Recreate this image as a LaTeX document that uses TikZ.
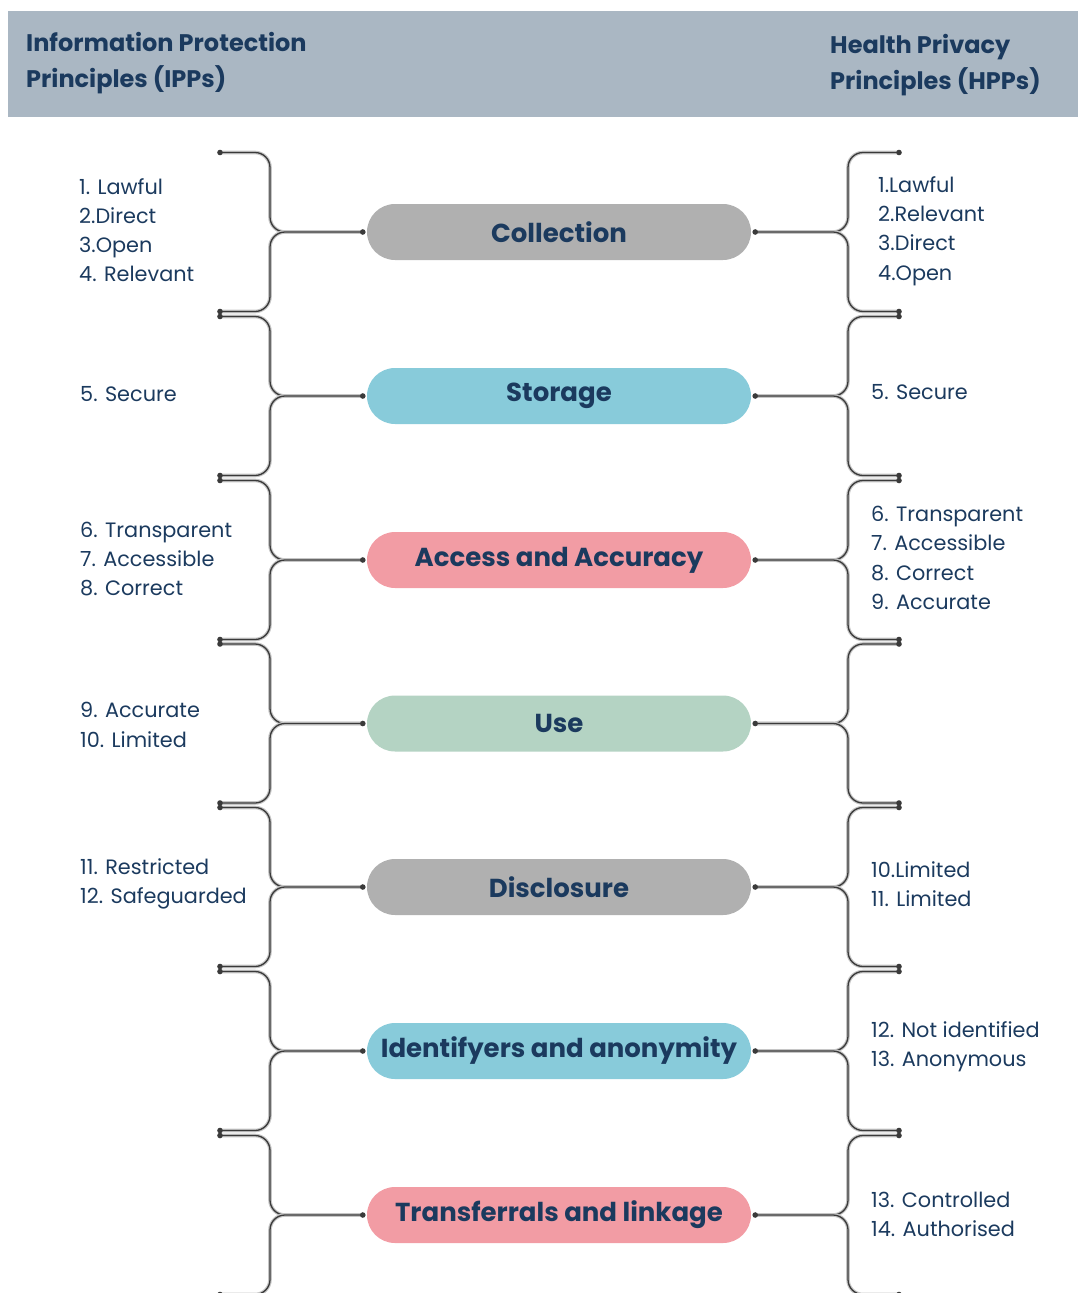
\documentclass[tikz,border=0pt]{standalone}
\usepackage{fontspec}
\setmainfont{Poppins}
\definecolor{navy}{HTML}{1B3A5E}
\definecolor{headbg}{HTML}{AAB7C3}
\definecolor{pgray}{HTML}{B0B0B0}
\definecolor{pblue}{HTML}{88CBDA}
\definecolor{ppink}{HTML}{F29CA4}
\definecolor{psage}{HTML}{B4D3C3}
\definecolor{wirecore}{HTML}{3A3A3A}
\definecolor{wirehalo}{HTML}{C6C6C6}
\tikzset{
  headtxt/.style={text=navy, align=left, inner sep=0pt, font=\fontsize{24}{35.5}\selectfont\bfseries},
  pill/.style={minimum width=384pt, minimum height=56pt, rounded corners=28pt, inner sep=0pt,
    text=navy, font=\fontsize{26}{30}\selectfont\bfseries},
  lbl/.style={text=navy, align=left, anchor=west, inner sep=0pt, font=\fontsize{20.8}{29.2}\selectfont},
  wire/.style={draw=wirecore, line width=1.3pt, rounded corners=15pt,
    preaction={draw=wirehalo, line width=3.6pt}},
  dotc/.style={fill=wirecore}
}
\begin{document}
\begin{tikzpicture}[x=1pt,y=-1pt]
\useasboundingbox (0,0) rectangle (1078,1293);
% header band
\fill[headbg] (8,11) rectangle (1078,117);
\node[headtxt, anchor=west] (ipp) at (26,63) {Information Protection\\Principles (IPPs)};
\node[headtxt, anchor=west] (hpp) at (830,65) {Health Privacy\\Principles (HPPs)};

% stages with their brackets on both sides
\foreach \i/\c/\col/\txt in {1/232/pgray/Collection, 2/396/pblue/Storage,
    3/560/ppink/Access and Accuracy, 4/723.5/psage/Use, 5/887/pgray/Disclosure,
    6/1051/pblue/Identifyers and anonymity, 7/1215/ppink/Transferrals and linkage}{
  \node[pill, fill=\col] (p\i) at (559,\c) {\txt};
  \coordinate (pl\i) at ([xshift=-4pt]p\i.west);
  \coordinate (pr\i) at ([xshift=4pt]p\i.east);
  \coordinate (lt\i) at (220,{\c-79.5});
  \coordinate (lb\i) at (220,{\c+79.5});
  \coordinate (rt\i) at (899,{\c-79.5});
  \coordinate (rb\i) at (899,{\c+79.5});
  \draw[wire] (lt\i) -- ++(50,0) |- (pl\i);
  \draw[wire] (lb\i) -- ++(50,0) |- (pl\i);
  \draw[wire] (rt\i) -- ++(-51,0) |- (pr\i);
  \draw[wire] (rb\i) -- ++(-51,0) |- (pr\i);
  \foreach \d in {pl\i,pr\i,lt\i,lb\i,rt\i,rb\i}{\fill[dotc] (\d) circle (2.8pt);}
}

% IPP lists
\node[lbl] (l1) at (79,230) {1. Lawful\\2.Direct\\3.Open\\4. Relevant};
\node[lbl] (l2) at (80,394) {5. Secure};
\node[lbl] (l3) at (80,559) {6. Transparent\\7. Accessible\\8. Correct};
\node[lbl] (l4) at (80,725) {9. Accurate\\10. Limited};
\node[lbl] (l5) at (80,884) {11. Restricted\\12. Safeguarded};

% HPP lists
\node[lbl] (r1) at (878,231) {1.Lawful\\2.Relevant\\3.Direct\\4.Open};
\node[lbl] (r2) at (871,392) {5. Secure};
\node[lbl] (r3) at (871,558) {6. Transparent\\7. Accessible\\8. Correct\\9. Accurate};
\node[lbl] (r5) at (871,884) {10.Limited\\11. Limited};
\node[lbl] (r6) at (871,1047) {12. Not identified\\13. Anonymous};
\node[lbl] (r7) at (871,1214) {13. Controlled\\14. Authorised};
\end{tikzpicture}
\end{document}
